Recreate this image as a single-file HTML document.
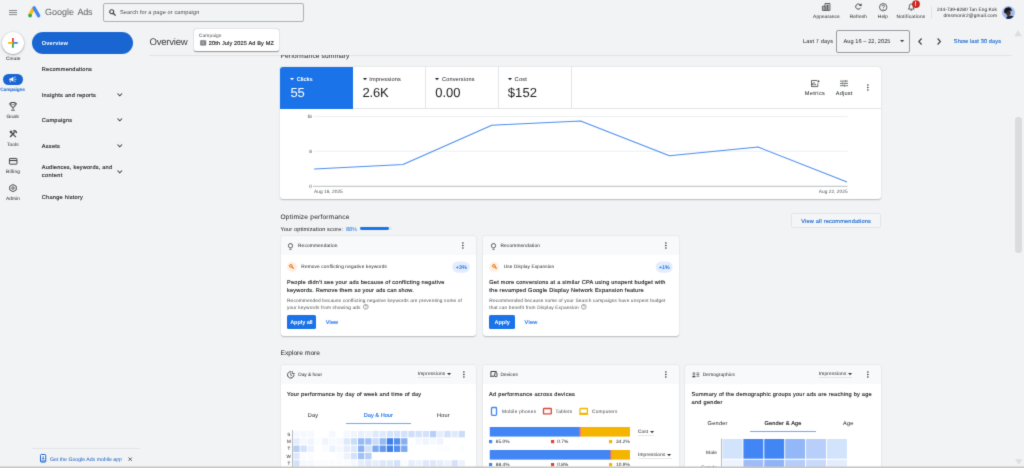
<!DOCTYPE html>
<html lang="en"><head>
<meta charset="utf-8">
<title>Overview - Google Ads</title>
<style>
*{box-sizing:border-box;margin:0;padding:0}
html,body{width:1024px;height:468px;overflow:hidden;background:#f1f3f4}
body{position:relative;text-rendering:geometricPrecision;font-family:"Liberation Sans",sans-serif;color:#202124;-webkit-font-smoothing:antialiased}
.a{position:absolute}
.t{position:absolute;white-space:nowrap;line-height:1;display:block}
.b{font-weight:normal;-webkit-text-stroke:.13px currentColor}
.g{color:#494d52}
.d{color:#202124}
.bl{color:#1a73e8}
.card{position:absolute;background:#fff;border-radius:3px;box-shadow:0 .5px 1px rgba(60,64,67,.22),0 .8px 2px rgba(60,64,67,.1)}
.chd{position:absolute;left:0;top:0;right:0;height:19px;background:#f8f9fa;border-radius:3px 3px 0 0}
svg{position:absolute;overflow:visible}
.dot{position:absolute;width:1.3px;height:1.3px;border-radius:50%;background:#3c4043}
</style>
</head>
<body>
<svg width="0" height="0" style="position:absolute"><filter id="soft" x="0" y="0" width="100%" height="100%" color-interpolation-filters="sRGB"><feConvolveMatrix order="3" kernelMatrix="0.015 0.085 0.015 0.085 0.6 0.085 0.015 0.085 0.015" divisor="1" edgeMode="duplicate" preserveAlpha="true"></feConvolveMatrix></filter></svg>
<div id="wrap" style="position:absolute;left:-8px;top:-8px;width:1040px;height:484px;background:#f1f3f4;filter:url(#soft)">
<div id="page" style="position:absolute;left:8px;top:8px;width:1024px;height:468px">

<!-- ================= TOP BAR ================= -->
<div id="topbar">
  <svg style="left:9px;top:10px" width="8" height="5" viewBox="0 0 8 5"><path d="M0 .5h8M0 2.5h8M0 4.6h8" stroke="#5f6368" stroke-width="0.72" fill="none"></path></svg>
  <!-- logo -->
  <svg style="left:27.5px;top:6px" width="12.6" height="11.6" viewBox="0 0 12.6 11.6">
    <path d="M1.6 9.4 L5.6 2.1" stroke="#fbbc04" stroke-width="3.3" stroke-linecap="butt" fill="none"></path>
    <path d="M6.1 1.9 L10.6 9.7" stroke="#4285f4" stroke-width="3.4" stroke-linecap="round" fill="none"></path>
    <circle cx="2.1" cy="9.6" r="1.9" fill="#34a853"></circle>
  </svg>
  <span class="t g" style="font-size: 9px; color: rgb(95, 99, 104); left: 45px; top: 8px; letter-spacing: -0.006px;">Google</span>
  <span class="t g" style="font-size: 9px; color: rgb(95, 99, 104); left: 77.5px; top: 8px; letter-spacing: -0.206px;">Ads</span>
  <div class="a" style="left:103px;top:2.5px;width:200.5px;height:19px;border:0.7px solid #aeb2b6;border-radius:2px;background:#f1f3f4"></div>
  <svg style="left:109px;top:8.6px" width="7" height="7" viewBox="0 0 7 7"><circle cx="2.7" cy="2.7" r="2" stroke="#3c4043" stroke-width="1.1" fill="none"></circle><path d="M4.2 4.2 L6.6 6.6" stroke="#3c4043" stroke-width="1.25"></path></svg>
  <span class="t g" style="font-size: 5.6px; left: 120px; top: 11px; letter-spacing: 0.087px;">Search for a page or campaign</span>
</div>

<!-- top right -->
<div id="topright">
  <!-- appearance -->
  <svg style="left:822.2px;top:3px" width="8.4" height="7.8" viewBox="0 0 8.4 7.8"><path d="M.4 7.4V3.2h2.6V7.4zM3 7.4V.5h4.9V7.4z" stroke="#3c4043" stroke-width="0.8" fill="none"></path><rect x="4.4" y="1.6" width="2.2" height="5.4" fill="#5f6368"></rect><rect x="1.1" y="4" width="1.3" height="3" fill="#9aa0a6"></rect></svg>
  <span class="t d" style="font-size: 4.8px; left: 813.1px; top: 16px; letter-spacing: 0.087px;">Appearance</span>
  <!-- refresh -->
  <svg style="left:855px;top:3.4px" width="7" height="7" viewBox="0 0 7 7"><path d="M5.7 4.6A2.6 2.6 0 1 1 5 1.6" stroke="#3c4043" stroke-width="0.9" fill="none"></path><path d="M6.6 .2V2.9H3.9z" fill="#3c4043"></path></svg>
  <span class="t d" style="font-size: 4.8px; left: 849.8px; top: 16px; letter-spacing: 0.047px;">Refresh</span>
  <!-- help -->
  <svg style="left:879px;top:2.9px" width="8.4" height="8.4" viewBox="0 0 8.4 8.4"><circle cx="4.2" cy="4.2" r="3.7" stroke="#3c4043" stroke-width="0.8" fill="none"></circle><path d="M3 3.3A1.2 1.2 0 1 1 4.7 4.3Q4.2 4.6 4.2 5.2" stroke="#3c4043" stroke-width="0.8" fill="none"></path><circle cx="4.2" cy="6.4" r=".5" fill="#3c4043"></circle></svg>
  <span class="t d" style="font-size: 4.8px; left: 877.8px; top: 16px; letter-spacing: 0.121px;">Help</span>
  <!-- bell -->
  <svg style="left:908px;top:3px" width="6.6" height="7.8" viewBox="0 0 6.6 7.8"><path d="M.4 6.1h5.8L5.3 5V3A2 2 0 0 0 1.3 3V5z" stroke="#3c4043" stroke-width="0.8" fill="none" stroke-linejoin="round"></path><path d="M2.5 7.1h1.6" stroke="#3c4043" stroke-width="0.9"></path></svg>
  <svg style="left:912px;top:-.4px" width="8" height="8" viewBox="0 0 8 8"><circle cx="4" cy="4.1" r="3.9" fill="#c9261f"></circle></svg>
  <span class="t" style="font-size: 6.4px; color: rgb(255, 255, 255); font-weight: bold; left: 914.55px; top: 2px;">!</span>
  <span class="t d" style="font-size: 4.8px; left: 896.5px; top: 16px; letter-spacing: 0.213px;">Notifications</span>
  <div class="a" style="left:931px;top:5.5px;width:1px;height:13.2px;background:#e2e4e7"></div>
  <span class="t d" style="font-size: 4.8px; left: 937px; top: 9px; letter-spacing: 0.071px;">244-739-8280 Tan Eng Kok</span>
  <span class="t d" style="font-size: 4.8px; left: 943.5px; top: 15px; letter-spacing: 0.165px;">dmsmonir2@gmail.com</span>
  <!-- avatar -->
  <svg style="left:1002px;top:5.9px" width="13" height="13" viewBox="0 0 13 13">
    <defs><clipPath id="av"><circle cx="6.5" cy="6.5" r="6.45"></circle></clipPath></defs>
    <g clip-path="url(#av)">
      <rect width="13" height="13" fill="#a4bcee"></rect>
      <path d="M4 13Q4.5 9.6 7.4 9.8Q11.6 9.2 13 11.5V13z" fill="#1a2543"></path>
      <ellipse cx="6.3" cy="7.1" rx="2.3" ry="2.8" fill="#4a332d"></ellipse>
      <path d="M2.2 6.2Q1.6 2 5.6 1.4Q9.6 1 9.9 5.2Q9.2 4.4 7 4.8Q4.4 5 4.1 7.6Q2.6 7.4 2.2 6.2z" fill="#15141a"></path>
      <path d="M5.2 6.4h2.6" stroke="#1d1716" stroke-width=".6"></path>
    </g>
  </svg>
</div>

<!-- ================= LEFT RAIL ================= -->
<div id="rail">
  <div class="a" style="left:2px;top:32px;width:22px;height:22px;border-radius:50%;background:#fff;box-shadow:0 .5px 1.5px rgba(60,64,67,.4),0 1px 3px rgba(60,64,67,.2)"></div>
  <svg style="left:8.2px;top:38.2px" width="9.8" height="9.8" viewBox="0 0 9.8 9.8">
    <rect x="4" y="0" width="1.8" height="4.9" fill="#ea4335"></rect>
    <rect x="4" y="4.9" width="1.8" height="4.9" fill="#34a853"></rect>
    <rect x="0" y="4" width="4.9" height="1.8" fill="#fbbc04"></rect>
    <rect x="4.9" y="4" width="4.9" height="1.8" fill="#4285f4"></rect>
  </svg>
  <span class="t d" style="font-size: 4.8px; left: 6px; top: 58px; letter-spacing: 0.017px;">Create</span>

  <div class="a" style="left:3px;top:74.2px;width:19.5px;height:10.8px;border-radius:5.4px;background:#1966d3"></div>
  <svg style="left:9px;top:76.2px" width="8" height="7" viewBox="0 0 8 7"><path d="M.4 2.5h1.6L4.4 .8V5.8L2 4.3H.4z" fill="#fff"></path><path d="M1 4.4l.5 1.9" stroke="#fff" stroke-width=".8"></path><path d="M5.4 3.3h2M5.2 1.8l1.5-1M5.2 4.8l1.5 1" stroke="#fff" stroke-width=".7"></path></svg>
  <span class="t" style="font-size: 4.8px; color: rgb(25, 102, 211); font-weight: bold; left: 0.3px; top: 89px; letter-spacing: -0.148px;">Campaigns</span>

  <!-- goals trophy -->
  <svg style="left:9px;top:102.4px" width="8" height="9" viewBox="0 0 8 9"><path d="M1.9 .5h4.2V3.2A2.1 2.1 0 0 1 1.9 3.2z" stroke="#3c4043" stroke-width=".95" fill="none"></path><path d="M1.9 1.3H.5Q.4 3.3 2.1 3.7M6.1 1.3H7.5Q7.6 3.3 5.9 3.7" stroke="#3c4043" stroke-width=".7" fill="none"></path><path d="M4 5.3V7.4M2.2 8.2h3.6" stroke="#3c4043" stroke-width=".9"></path><path d="M2.9 1.8L4 3.2 5.3 1.6" stroke="#3c4043" stroke-width=".5" fill="none"></path></svg>
  <span class="t d" style="font-size: 4.8px; left: 6.5px; top: 116px; letter-spacing: -0.007px;">Goals</span>

  <!-- tools -->
  <svg style="left:9px;top:130px" width="8" height="7.6" viewBox="0 0 8 7.6"><path d="M1.1 7L5.6 2.2" stroke="#3c4043" stroke-width="1.25"></path><path d="M4.3 1.3A1.9 1.9 0 0 1 7.4 3.1" stroke="#3c4043" stroke-width="1.35" fill="none"></path><path d="M2.4 2.6L6.9 7.1" stroke="#3c4043" stroke-width="1.15"></path><path d="M.4 1.9L2 .3 3.6 1.9 2 3.5z" fill="#3c4043"></path></svg>
  <span class="t d" style="font-size: 4.8px; left: 7px; top: 144px; letter-spacing: 0.133px;">Tools</span>

  <!-- billing -->
  <svg style="left:8.8px;top:158px" width="8.4" height="6.6" viewBox="0 0 8.4 6.6"><rect x=".45" y=".45" width="7.5" height="5.7" rx=".4" stroke="#3c4043" stroke-width=".95" fill="none"></rect><path d="M.5 2.5h7.4" stroke="#3c4043" stroke-width="1.1"></path></svg>
  <span class="t d" style="font-size: 4.8px; left: 6px; top: 171px; letter-spacing: 0.183px;">Billing</span>

  <!-- admin -->
  <svg style="left:9px;top:184.4px" width="8" height="8.2" viewBox="0 0 8 8.2"><path d="M4 .55L7.25 2.3V5.9L4 7.65.75 5.9V2.3z" stroke="#3c4043" stroke-width=".95" fill="none" stroke-linejoin="round"></path><circle cx="4" cy="4.1" r="1.25" stroke="#3c4043" stroke-width=".85" fill="none"></circle></svg>
  <span class="t d" style="font-size: 4.8px; left: 6px; top: 198px; letter-spacing: 0.087px;">Admin</span>
</div>

<!-- ================= NAV ================= -->
<div id="nav">
  <div class="a" style="left:32px;top:31.5px;width:101.3px;height:22.5px;border-radius:11.25px;background:#1966d3"></div>
  <span class="t" style="font-size: 5.6px; color: rgb(255, 255, 255); font-weight: bold; left: 41.8px; top: 42px; letter-spacing: 0.175px;">Overview</span>
  <span class="t b" style="font-size: 5.6px; color: rgb(32, 33, 36); left: 41.8px; top: 68px; letter-spacing: 0.245px;">Recommendations</span>
  <span class="t b" style="font-size: 5.6px; color: rgb(32, 33, 36); left: 41.8px; top: 94px; letter-spacing: 0.259px;">Insights and reports</span>
  <span class="t b" style="font-size: 5.6px; color: rgb(32, 33, 36); left: 41.8px; top: 119px; letter-spacing: 0.247px;">Campaigns</span>
  <span class="t b" style="font-size: 5.6px; color: rgb(32, 33, 36); left: 41.8px; top: 145px; letter-spacing: 0.255px;">Assets</span>
  <span class="t b" style="font-size: 5.6px; color: rgb(32, 33, 36); left: 41.8px; top: 166px; letter-spacing: 0.216px;">Audiences, keywords, and</span>
  <span class="t b" style="font-size: 5.6px; color: rgb(32, 33, 36); left: 41.8px; top: 174px; letter-spacing: 0.36px;">content</span>
  <span class="t b" style="font-size: 5.6px; color: rgb(32, 33, 36); left: 41.8px; top: 196px; letter-spacing: 0.265px;">Change history</span>
  <svg style="left:116.9px;top:92.8px" width="5.6" height="3.4" viewBox="0 0 5.6 3.4"><path d="M.5 .5L2.8 2.8 5.1 .5" stroke="#3c4043" stroke-width="1.05" fill="none"></path></svg>
  <svg style="left:116.9px;top:118.4px" width="5.6" height="3.4" viewBox="0 0 5.6 3.4"><path d="M.5 .5L2.8 2.8 5.1 .5" stroke="#3c4043" stroke-width="1.05" fill="none"></path></svg>
  <svg style="left:116.9px;top:144.1px" width="5.6" height="3.4" viewBox="0 0 5.6 3.4"><path d="M.5 .5L2.8 2.8 5.1 .5" stroke="#3c4043" stroke-width="1.05" fill="none"></path></svg>
  <svg style="left:116.9px;top:169.8px" width="5.6" height="3.4" viewBox="0 0 5.6 3.4"><path d="M.5 .5L2.8 2.8 5.1 .5" stroke="#3c4043" stroke-width="1.05" fill="none"></path></svg>
  <!-- mobile app promo -->
  <div class="a" style="left:32px;top:448px;width:108px;height:1px;background:#e3e5e8"></div>
  <svg style="left:40.2px;top:454px" width="6.2" height="8.6" viewBox="0 0 6.2 8.6"><rect x=".5" y=".5" width="5.2" height="7.6" rx=".8" stroke="#1967d2" stroke-width="1" fill="#fff"></rect><path d="M3.1 2V5.2M1.9 4.1L3.1 5.4 4.3 4.1" stroke="#174ea6" stroke-width=".8" fill="none"></path><path d="M.6 7h5" stroke="#1967d2" stroke-width="1"></path></svg>
  <span class="t" style="font-size: 5.2px; color: rgb(26, 95, 203); left: 50px; top: 458px; letter-spacing: -0.004px;">Get the Google Ads mobile app</span>
  <svg style="left:128px;top:456.6px" width="4.4" height="4.4" viewBox="0 0 4.4 4.4"><path d="M.5 .5L3.9 3.9M3.9 .5L.5 3.9" stroke="#3c4043" stroke-width=".8"></path></svg>
</div>

<!-- ================= PAGE HEADER ================= -->
<div id="pagehead">
  <span class="t" style="font-size: 9.6px; color: rgb(60, 64, 67); left: 149.5px; top: 38px; letter-spacing: -0.265px;">Overview</span>
  <div class="a" style="left:194px;top:28.5px;width:85px;height:22.5px;border-radius:2px;background:#fff;box-shadow:0 .4px 1px rgba(60,64,67,.4),0 .5px 1.5px rgba(60,64,67,.2)"></div>
  <span class="t g" style="font-size: 4.8px; left: 199px; top: 35px; letter-spacing: 0.083px;">Campaign</span>
  <svg style="left:200px;top:40.2px" width="6.4" height="5.6" viewBox="0 0 6.4 5.6"><rect x=".2" y=".2" width="6" height="5.2" rx=".6" fill="#777b80"></rect><circle cx="2.8" cy="2.7" r="1.1" stroke="#d5d7da" stroke-width=".55" fill="none"></circle><path d="M3.6 3.5l.9 .9M4.6 1.4h.9" stroke="#d5d7da" stroke-width=".55"></path></svg>
  <span class="t b" style="font-size: 5.6px; color: rgb(32, 33, 36); left: 208.8px; top: 42px; letter-spacing: 0.134px;">20th July 2025 Ad By MZ</span>
  <div class="a" style="left:149px;top:55px;width:863px;height:1px;background:#e1e3e6"></div>

  <span class="t d" style="font-size: 5.6px; left: 803px; top: 40px; letter-spacing: 0.132px;">Last 7 days</span>
  <div class="a" style="left:836px;top:30px;width:74px;height:23px;border:1px solid #979ba0;border-radius:2px"></div>
  <span class="t d" style="font-size: 5.6px; left: 843.5px; top: 40px; letter-spacing: 0.077px;">Aug 16 – 22, 2025</span>
  <svg style="left:899.6px;top:40.2px" width="4.2" height="2.4" viewBox="0 0 4.2 2.4"><path d="M0 0h4.2L2.1 2.3z" fill="#3c4043"></path></svg>
  <svg style="left:918px;top:37.7px" width="4.2" height="7" viewBox="0 0 4.2 7"><path d="M3.6 .5L.8 3.5 3.6 6.5" stroke="#3c4043" stroke-width="1.15" fill="none"></path></svg>
  <svg style="left:937px;top:37.7px" width="4.2" height="7" viewBox="0 0 4.2 7"><path d="M.6 .5L3.4 3.5 .6 6.5" stroke="#3c4043" stroke-width="1.15" fill="none"></path></svg>
  <span class="t b" style="font-size: 5.6px; color: rgb(25, 103, 210); left: 953.8px; top: 40px; letter-spacing: 0.109px;">Show last 30 days</span>
</div>

<!-- scrollbar -->
<div id="scroll">
  <svg style="left:1014px;top:29.6px" width="8.2" height="6.4" viewBox="0 0 8.2 6.4"><path d="M4.1 .2L8 6.2H.2z" fill="#dcdee1"></path></svg>
  <div class="a" style="left:1015px;top:117px;width:6.6px;height:136px;border-radius:3.3px;background:#dadce0"></div>
  <svg style="left:1014.6px;top:459px" width="7.6" height="6" viewBox="0 0 7.6 6"><path d="M.2 .2H7.4L3.8 5.8z" fill="#dcdee1"></path></svg>
</div>

<!-- ================= CONTENT ================= -->
<div id="content" class="a" style="left:0;top:55.3px;width:1012px;height:412.7px;overflow:hidden">
 <div class="a" style="left:0;top:-55.3px;width:1012px;height:468px">

  <span class="t" style="font-size: 6.6px; color: rgb(32, 33, 36); left: 280.5px; top: 54px; letter-spacing: 0.124px;">Performance summary</span>

  <!-- performance card -->
  <div class="card" style="left:280px;top:67px;width:601px;height:131.8px">
    <div class="a" style="left:0;top:41px;width:601px;height:1px;background:#e3e5e8"></div>
    <div class="a" style="left:0;top:0;width:72.8px;height:41.5px;background:#1a73e8;border-radius:3px 0 0 0"></div>
    <div class="a" style="left:145.3px;top:0;width:.6px;height:41px;background:#e3e5e8"></div>
    <div class="a" style="left:218px;top:0;width:.6px;height:41px;background:#e3e5e8"></div>
    <div class="a" style="left:290.6px;top:0;width:.6px;height:41px;background:#e3e5e8"></div>
  </div>
  <svg style="left:289.9px;top:77.7px" width="4" height="2.3" viewBox="0 0 4 2.3"><path d="M0 0h4L2 2.3z" fill="#fff"></path></svg>
  <span class="t" style="font-size: 5.6px; color: rgb(255, 255, 255); font-weight: bold; left: 296.8px; top: 78px; letter-spacing: -0.143px;">Clicks</span>
  <span class="t" style="font-size: 13px; color: rgb(255, 255, 255); left: 290.4px; top: 86px; letter-spacing: -0.179px;">55</span>

  <svg style="left:362.7px;top:77.7px" width="4" height="2.3" viewBox="0 0 4 2.3"><path d="M0 0h4L2 2.3z" fill="#202124"></path></svg>
  <span class="t d" style="font-size: 5.6px; color: rgb(32, 33, 36); left: 369.3px; top: 78px; letter-spacing: 0.128px;">Impressions</span>
  <span class="t d" style="font-size: 13px; left: 362.6px; top: 86px; letter-spacing: -0.243px;">2.6K</span>

  <svg style="left:435.4px;top:77.7px" width="4" height="2.3" viewBox="0 0 4 2.3"><path d="M0 0h4L2 2.3z" fill="#202124"></path></svg>
  <span class="t d" style="font-size: 5.6px; color: rgb(32, 33, 36); left: 442px; top: 78px; letter-spacing: 0.134px;">Conversions</span>
  <span class="t d" style="font-size: 13px; left: 435.2px; top: 86px; letter-spacing: -0.004px;">0.00</span>

  <svg style="left:508.1px;top:77.7px" width="4" height="2.3" viewBox="0 0 4 2.3"><path d="M0 0h4L2 2.3z" fill="#202124"></path></svg>
  <span class="t d" style="font-size: 5.6px; color: rgb(32, 33, 36); left: 514.6px; top: 78px; letter-spacing: 0.253px;">Cost</span>
  <span class="t d" style="font-size: 13px; left: 507.8px; top: 86px; letter-spacing: 0.079px;">$152</span>

  <!-- metrics / adjust -->
  <svg style="left:810.5px;top:80px" width="8.8" height="7.2" viewBox="0 0 8.8 7.2"><path d="M6 .5H.5V6.6H6.8V3.4" stroke="#3c4043" stroke-width=".8" fill="none"></path><path d="M1.6 5.3V3.2M3 5.3V2M4.4 5.3V3.9" stroke="#3c4043" stroke-width=".8"></path><path d="M7.4 0V2.6M6.1 1.3H8.7" stroke="#3c4043" stroke-width=".7"></path></svg>
  <span class="t d" style="font-size: 5.6px; left: 804.8px; top: 92px; letter-spacing: 0.334px;">Metrics</span>
  <svg style="left:840px;top:80.2px" width="8" height="6.8" viewBox="0 0 8 6.8"><path d="M0 1.1H4.6M6 1.1H8M0 3.4H2M3.4 3.4H8M0 5.7H4M5.4 5.7H8" stroke="#3c4043" stroke-width=".75"></path><path d="M5.3 0V2.2M2.7 2.3V4.5M4.7 4.6V6.8" stroke="#3c4043" stroke-width=".8"></path></svg>
  <span class="t d" style="font-size: 5.6px; left: 835.8px; top: 92px; letter-spacing: 0.21px;">Adjust</span>
  <svg style="left:867.4px;top:84.2px" width="1.8" height="6.8" viewBox="0 0 1.8 6.8"><circle cx=".9" cy=".9" r=".76" fill="#202124"></circle><circle cx=".9" cy="3.4" r=".76" fill="#202124"></circle><circle cx=".9" cy="5.9" r=".76" fill="#202124"></circle></svg>

  <!-- chart -->
  <svg style="left:280px;top:108px" width="601" height="91" viewBox="280 108 601 91">
    <path d="M314 116.5H847.5M314 151.3H847.5" stroke="#e8eaed" stroke-width=".7"></path>
    <path d="M313 186.3H847.5" stroke="#9aa0a6" stroke-width=".7"></path>
    <path d="M314.2 168.9 L403.0 164.5 L491.8 125.3 L580.6 120.9 L669.4 155.8 L758.2 147.1 L847.0 181.9" stroke="#4a8df0" stroke-width="1.05" fill="none" stroke-linejoin="round"></path>
  </svg>
  <span class="t g" style="font-size: 4.8px; color: rgb(77, 81, 86); left: 307.2px; top: 116px; letter-spacing: -0.496px;">16</span>
  <span class="t g" style="font-size: 4.8px; color: rgb(77, 81, 86); left: 309.3px; top: 151px;">8</span>
  <span class="t g" style="font-size: 4.8px; color: rgb(77, 81, 86); left: 309.3px; top: 186px;">0</span>
  <span class="t g" style="font-size: 4.8px; color: rgb(77, 81, 86); left: 314px; top: 191px; letter-spacing: 0.022px;">Aug 16, 2025</span>
  <span class="t g" style="font-size: 4.8px; color: rgb(77, 81, 86); left: 818.8px; top: 191px; letter-spacing: 0.022px;">Aug 22, 2025</span>

  <!-- optimize -->
  <span class="t" style="font-size: 6.6px; color: rgb(32, 33, 36); left: 280.5px; top: 215px; letter-spacing: 0.212px;">Optimize performance</span>
  <span class="t d" style="font-size: 5.6px; left: 280.5px; top: 228px; letter-spacing: 0.128px;">Your optimization score:</span>
  <span class="t" style="font-size: 5.6px; color: rgb(26, 115, 232); left: 346px; top: 228px; letter-spacing: -0.081px;">88%</span>
  <div class="a" style="left:360px;top:227.2px;width:31.8px;height:2.8px;border-radius:1.4px;background:#e3e7ee"></div>
  <div class="a" style="left:360px;top:227.2px;width:28.6px;height:2.8px;border-radius:1.4px;background:#1a73e8"></div>
  <div class="a" style="left:791px;top:213px;width:90px;height:15px;border:1px solid #e3e5e8;border-radius:2px;background:#f3f5f6"></div>
  <span class="t b" style="font-size: 5.6px; color: rgb(25, 103, 210); left: 801.2px; top: 220px; letter-spacing: 0.196px;">View all recommendations</span>

  <!-- rec card 1 -->
  <div class="card" style="left:280.7px;top:236.2px;width:195.3px;height:99.4px"><div class="chd"></div></div>
  <svg style="left:288.3px;top:242.6px" width="5" height="7.2" viewBox="0 0 5 7.2"><path d="M1.5 4.9Q.45 4 .45 2.6A2.05 2.05 0 0 1 4.55 2.6Q4.55 4 3.5 4.9z" stroke="#3c4043" stroke-width=".85" fill="none" stroke-linejoin="round"></path><path d="M1.5 6.4H3.5" stroke="#3c4043" stroke-width=".8"></path></svg>
  <span class="t d" style="font-size: 4.8px; left: 298px; top: 245px; letter-spacing: 0.14px;">Recommendation</span>
  <svg style="left:462.4px;top:242.4px" width="1.8" height="6.8" viewBox="0 0 1.8 6.8"><circle cx=".9" cy=".9" r=".76" fill="#202124"></circle><circle cx=".9" cy="3.4" r=".76" fill="#202124"></circle><circle cx=".9" cy="5.9" r=".76" fill="#202124"></circle></svg>
  <div class="a" style="left:286.8px;top:261.8px;width:10px;height:10px;border-radius:50%;background:#feefe3"></div>
  <svg style="left:289.4px;top:264.4px" width="5" height="5" viewBox="0 0 5 5"><circle cx="1.9" cy="1.9" r="1.35" stroke="#e8710a" stroke-width="1" fill="none"></circle><path d="M3 3L4.7 4.7" stroke="#e8710a" stroke-width="1.15"></path></svg>
  <span class="t d" style="font-size: 4.8px; left: 301.3px; top: 266px; letter-spacing: 0.116px;">Remove conflicting negative keywords</span>
  <svg style="left:452px;top:261px" width="18" height="12" viewBox="452 261 18 12"><rect x="452.2" y="261.4" width="17.7" height="11.3" rx="5.65" fill="#e4edfd"></rect></svg>
  <span class="t b" style="font-size: 5.2px; color: rgb(26, 115, 232); left: 455.7px; top: 266px; letter-spacing: 0.267px;">+3%</span>
  <span class="t b" style="font-size: 5.6px; color: rgb(32, 33, 36); left: 287px; top: 281px; letter-spacing: 0.238px;">People didn't see your ads because of conflicting negative</span>
  <span class="t b" style="font-size: 5.6px; color: rgb(32, 33, 36); left: 287px; top: 289px; letter-spacing: 0.196px;">keywords. Remove them so your ads can show.</span>
  <span class="t g" style="font-size: 4.8px; left: 287px; top: 300px; letter-spacing: 0.124px;">Recommended because conflicting negative keywords are preventing some of</span>
  <span class="t g" style="font-size: 4.8px; left: 287px; top: 307px; letter-spacing: 0.123px;">your keywords from showing ads</span>
  <svg style="left:363px;top:304.4px" width="5.6" height="5.6" viewBox="0 0 5.6 5.6"><circle cx="2.8" cy="2.8" r="2.4" stroke="#5f6368" stroke-width=".55" fill="none"></circle><path d="M2 2.3A.8.8 0 1 1 3.2 3Q2.8 3.2 2.8 3.6" stroke="#5f6368" stroke-width=".5" fill="none"></path><circle cx="2.8" cy="4.3" r=".3" fill="#5f6368"></circle></svg>
  <div class="a" style="left:287px;top:315px;width:28.8px;height:14px;border-radius:1.6px;background:#1a73e8"></div>
  <span class="t" style="font-size: 5.6px; color: rgb(255, 255, 255); font-weight: bold; left: 290.2px; top: 321px; letter-spacing: -0.107px;">Apply all</span>
  <span class="t b" style="font-size: 5.6px; color: rgb(26, 115, 232); left: 325.8px; top: 321px; letter-spacing: 0.105px;">View</span>

  <!-- rec card 2 -->
  <div class="card" style="left:483px;top:236.2px;width:196px;height:99.4px"><div class="chd"></div></div>
  <svg style="left:490.8px;top:242.6px" width="5" height="7.2" viewBox="0 0 5 7.2"><path d="M1.5 4.9Q.45 4 .45 2.6A2.05 2.05 0 0 1 4.55 2.6Q4.55 4 3.5 4.9z" stroke="#3c4043" stroke-width=".85" fill="none" stroke-linejoin="round"></path><path d="M1.5 6.4H3.5" stroke="#3c4043" stroke-width=".8"></path></svg>
  <span class="t d" style="font-size: 4.8px; left: 500.5px; top: 245px; letter-spacing: 0.14px;">Recommendation</span>
  <svg style="left:665.2px;top:242.4px" width="1.8" height="6.8" viewBox="0 0 1.8 6.8"><circle cx=".9" cy=".9" r=".76" fill="#202124"></circle><circle cx=".9" cy="3.4" r=".76" fill="#202124"></circle><circle cx=".9" cy="5.9" r=".76" fill="#202124"></circle></svg>
  <div class="a" style="left:489px;top:261.8px;width:10px;height:10px;border-radius:50%;background:#feefe3"></div>
  <svg style="left:491.6px;top:264.4px" width="5" height="5" viewBox="0 0 5 5"><circle cx="1.9" cy="1.9" r="1.35" stroke="#e8710a" stroke-width="1" fill="none"></circle><path d="M3 3L4.7 4.7" stroke="#e8710a" stroke-width="1.15"></path></svg>
  <span class="t d" style="font-size: 4.8px; left: 503.8px; top: 266px; letter-spacing: 0.057px;">Use Display Expansion</span>
  <svg style="left:655px;top:261px" width="18" height="12" viewBox="655 261 18 12"><rect x="655.6" y="261.4" width="17" height="11.3" rx="5.65" fill="#e4edfd"></rect></svg>
  <span class="t b" style="font-size: 5.2px; color: rgb(26, 115, 232); left: 658.9px; top: 266px; letter-spacing: 0.067px;">+1%</span>
  <span class="t b" style="font-size: 5.6px; color: rgb(32, 33, 36); left: 489.3px; top: 281px; letter-spacing: 0.224px;">Get more conversions at a similar CPA using unspent budget with</span>
  <span class="t b" style="font-size: 5.6px; color: rgb(32, 33, 36); left: 489.3px; top: 289px; letter-spacing: 0.23px;">the revamped Google Display Network Expansion feature</span>
  <span class="t g" style="font-size: 4.8px; left: 489.3px; top: 300px; letter-spacing: 0.116px;">Recommended because some of your Search campaigns have unspent budget</span>
  <span class="t g" style="font-size: 4.8px; left: 489.3px; top: 307px; letter-spacing: 0.129px;">that can benefit from Display Expansion</span>
  <svg style="left:581px;top:304.4px" width="5.6" height="5.6" viewBox="0 0 5.6 5.6"><circle cx="2.8" cy="2.8" r="2.4" stroke="#5f6368" stroke-width=".55" fill="none"></circle><path d="M2 2.3A.8.8 0 1 1 3.2 3Q2.8 3.2 2.8 3.6" stroke="#5f6368" stroke-width=".5" fill="none"></path><circle cx="2.8" cy="4.3" r=".3" fill="#5f6368"></circle></svg>
  <div class="a" style="left:489.3px;top:315px;width:25.7px;height:14px;border-radius:1.6px;background:#1a73e8"></div>
  <span class="t" style="font-size: 5.6px; color: rgb(255, 255, 255); font-weight: bold; left: 494.4px; top: 321px; letter-spacing: -0.033px;">Apply</span>
  <span class="t b" style="font-size: 5.6px; color: rgb(26, 115, 232); left: 524.5px; top: 321px; letter-spacing: 0.277px;">View</span>

  <!-- explore more -->
  <span class="t" style="font-size: 6.6px; color: rgb(32, 33, 36); left: 280.5px; top: 351px; letter-spacing: 0.024px;">Explore more</span>

  <div class="card" style="left:280.7px;top:365.2px;width:195.3px;height:110px"><div class="chd" style="height:18.6px"></div></div>
  <svg style="left:287px;top:370.6px" width="7.8" height="7.8" viewBox="0 0 7.8 7.8"><path d="M6.9 3.4A3.2 3.2 0 1 1 4.2 .7" stroke="#3c4043" stroke-width=".95" fill="none"></path><path d="M3.7 2.2V4.1L5.1 5" stroke="#3c4043" stroke-width=".8" fill="none"></path><path d="M5.3 .2V2.5H7.6" stroke="#3c4043" stroke-width=".8" fill="none"></path></svg>
  <span class="t d" style="font-size: 4.8px; left: 298.2px; top: 374px; letter-spacing: -0.021px;">Day &amp; hour</span>
  <span class="t d" style="font-size: 4.8px; left: 417.7px; top: 373px; letter-spacing: 0.166px;">Impressions</span>
  <svg style="left:447px;top:373px" width="4.2" height="2.3" viewBox="0 0 4.2 2.3"><path d="M0 0h4.2L2.1 2.3z" fill="#3c4043"></path></svg>
  <div class="a" style="left:417.7px;top:377.4px;width:33.6px;height:1px;background:#e4e6e9"></div>
  <svg style="left:462.7px;top:371.0px" width="1.8" height="6.8" viewBox="0 0 1.8 6.8"><circle cx=".9" cy=".9" r=".76" fill="#202124"></circle><circle cx=".9" cy="3.4" r=".76" fill="#202124"></circle><circle cx=".9" cy="5.9" r=".76" fill="#202124"></circle></svg>
  <span class="t b" style="font-size: 5.6px; color: rgb(32, 33, 36); left: 287px; top: 393px; letter-spacing: 0.244px;">Your performance by day of week and time of day</span>
  <span class="t d" style="font-size: 5.6px; left: 307.8px; top: 414px; letter-spacing: 0.179px;">Day</span>
  <span class="t b" style="font-size: 5.6px; color: rgb(26, 115, 232); left: 363.7px; top: 414px; letter-spacing: 0.029px;">Day &amp; Hour</span>
  <span class="t d" style="font-size: 5.6px; left: 437px; top: 414px; letter-spacing: 0.193px;">Hour</span>
  <div class="a" style="left:345.8px;top:423.1px;width:65.3px;height:1px;background:#76a6f6"></div>
  <span class="t d" style="font-size: 4.6px; left: 287.3px; top: 433px;">S</span>
  <span class="t d" style="font-size: 4.6px; left: 286.9px; top: 440px;">M</span>
  <span class="t d" style="font-size: 4.6px; left: 287.4px; top: 447px;">T</span>
  <span class="t d" style="font-size: 4.6px; left: 286.6px; top: 455px;">W</span>
  <span class="t d" style="font-size: 4.6px; left: 287.4px; top: 462px;">T</span>
  <svg style="left:280px;top:424px" width="200" height="48" viewBox="280 424 200 48"><rect x="292.2" y="430" width=".55" height="40" fill="#80868b"></rect><rect x="293.30" y="430.90" width="6.3" height="6.4" fill="#2470e8" fill-opacity="0.048"></rect><rect x="300.49" y="430.90" width="6.3" height="6.4" fill="#2470e8" fill-opacity="0.048"></rect><rect x="307.68" y="430.90" width="6.3" height="6.4" fill="#2470e8" fill-opacity="0.048"></rect><rect x="329.25" y="430.90" width="6.3" height="6.4" fill="#2470e8" fill-opacity="0.048"></rect><rect x="343.63" y="430.90" width="6.3" height="6.4" fill="#2470e8" fill-opacity="0.048"></rect><rect x="350.82" y="430.90" width="6.3" height="6.4" fill="#2470e8" fill-opacity="0.067"></rect><rect x="358.01" y="430.90" width="6.3" height="6.4" fill="#2470e8" fill-opacity="0.102"></rect><rect x="365.20" y="430.90" width="6.3" height="6.4" fill="#2470e8" fill-opacity="0.088"></rect><rect x="372.39" y="430.90" width="6.3" height="6.4" fill="#2470e8" fill-opacity="0.149"></rect><rect x="379.58" y="430.90" width="6.3" height="6.4" fill="#2470e8" fill-opacity="0.149"></rect><rect x="386.77" y="430.90" width="6.3" height="6.4" fill="#2470e8" fill-opacity="0.190"></rect><rect x="393.96" y="430.90" width="6.3" height="6.4" fill="#2470e8" fill-opacity="0.190"></rect><rect x="401.15" y="430.90" width="6.3" height="6.4" fill="#2470e8" fill-opacity="0.199"></rect><rect x="408.34" y="430.90" width="6.3" height="6.4" fill="#2470e8" fill-opacity="0.225"></rect><rect x="415.53" y="430.90" width="6.3" height="6.4" fill="#2470e8" fill-opacity="0.199"></rect><rect x="422.72" y="430.90" width="6.3" height="6.4" fill="#2470e8" fill-opacity="0.199"></rect><rect x="429.91" y="430.90" width="6.3" height="6.4" fill="#2470e8" fill-opacity="0.327"></rect><rect x="437.10" y="430.90" width="6.3" height="6.4" fill="#2470e8" fill-opacity="0.117"></rect><rect x="444.29" y="430.90" width="6.3" height="6.4" fill="#2470e8" fill-opacity="0.199"></rect><rect x="451.48" y="430.90" width="6.3" height="6.4" fill="#2470e8" fill-opacity="0.149"></rect><rect x="458.67" y="430.90" width="6.3" height="6.4" fill="#2470e8" fill-opacity="0.234"></rect><rect x="293.30" y="438.22" width="6.3" height="6.4" fill="#2470e8" fill-opacity="0.117"></rect><rect x="300.49" y="438.22" width="6.3" height="6.4" fill="#2470e8" fill-opacity="0.048"></rect><rect x="307.68" y="438.22" width="6.3" height="6.4" fill="#2470e8" fill-opacity="0.074"></rect><rect x="314.87" y="438.22" width="6.3" height="6.4" fill="#2470e8" fill-opacity="0.014"></rect><rect x="322.06" y="438.22" width="6.3" height="6.4" fill="#2470e8" fill-opacity="0.074"></rect><rect x="329.25" y="438.22" width="6.3" height="6.4" fill="#2470e8" fill-opacity="0.036"></rect><rect x="336.44" y="438.22" width="6.3" height="6.4" fill="#2470e8" fill-opacity="0.048"></rect><rect x="343.63" y="438.22" width="6.3" height="6.4" fill="#2470e8" fill-opacity="0.157"></rect><rect x="350.82" y="438.22" width="6.3" height="6.4" fill="#2470e8" fill-opacity="0.243"></rect><rect x="358.01" y="438.22" width="6.3" height="6.4" fill="#2470e8" fill-opacity="0.489"></rect><rect x="365.20" y="438.22" width="6.3" height="6.4" fill="#2470e8" fill-opacity="0.437"></rect><rect x="372.39" y="438.22" width="6.3" height="6.4" fill="#2470e8" fill-opacity="0.243"></rect><rect x="379.58" y="438.22" width="6.3" height="6.4" fill="#2470e8" fill-opacity="0.489"></rect><rect x="386.77" y="438.22" width="6.3" height="6.4" fill="#2470e8" fill-opacity="0.889"></rect><rect x="393.96" y="438.22" width="6.3" height="6.4" fill="#2470e8" fill-opacity="0.781"></rect><rect x="401.15" y="438.22" width="6.3" height="6.4" fill="#2470e8" fill-opacity="0.554"></rect><rect x="415.53" y="438.22" width="6.3" height="6.4" fill="#2470e8" fill-opacity="0.048"></rect><rect x="422.72" y="438.22" width="6.3" height="6.4" fill="#2470e8" fill-opacity="0.074"></rect><rect x="429.91" y="438.22" width="6.3" height="6.4" fill="#2470e8" fill-opacity="0.048"></rect><rect x="437.10" y="438.22" width="6.3" height="6.4" fill="#2470e8" fill-opacity="0.074"></rect><rect x="293.30" y="445.54" width="6.3" height="6.4" fill="#2470e8" fill-opacity="0.336"></rect><rect x="300.49" y="445.54" width="6.3" height="6.4" fill="#2470e8" fill-opacity="0.199"></rect><rect x="307.68" y="445.54" width="6.3" height="6.4" fill="#2470e8" fill-opacity="0.081"></rect><rect x="322.06" y="445.54" width="6.3" height="6.4" fill="#2470e8" fill-opacity="0.019"></rect><rect x="329.25" y="445.54" width="6.3" height="6.4" fill="#2470e8" fill-opacity="0.081"></rect><rect x="336.44" y="445.54" width="6.3" height="6.4" fill="#2470e8" fill-opacity="0.048"></rect><rect x="343.63" y="445.54" width="6.3" height="6.4" fill="#2470e8" fill-opacity="0.117"></rect><rect x="350.82" y="445.54" width="6.3" height="6.4" fill="#2470e8" fill-opacity="0.157"></rect><rect x="358.01" y="445.54" width="6.3" height="6.4" fill="#2470e8" fill-opacity="0.532"></rect><rect x="365.20" y="445.54" width="6.3" height="6.4" fill="#2470e8" fill-opacity="0.199"></rect><rect x="372.39" y="445.54" width="6.3" height="6.4" fill="#2470e8" fill-opacity="0.598"></rect><rect x="379.58" y="445.54" width="6.3" height="6.4" fill="#2470e8" fill-opacity="0.711"></rect><rect x="386.77" y="445.54" width="6.3" height="6.4" fill="#2470e8" fill-opacity="0.889"></rect><rect x="393.96" y="445.54" width="6.3" height="6.4" fill="#2470e8" fill-opacity="0.781"></rect><rect x="401.15" y="445.54" width="6.3" height="6.4" fill="#2470e8" fill-opacity="0.598"></rect><rect x="437.10" y="445.54" width="6.3" height="6.4" fill="#2470e8" fill-opacity="0.010"></rect><rect x="444.29" y="445.54" width="6.3" height="6.4" fill="#2470e8" fill-opacity="0.010"></rect><rect x="458.67" y="445.54" width="6.3" height="6.4" fill="#2470e8" fill-opacity="0.010"></rect><rect x="293.30" y="452.86" width="6.3" height="6.4" fill="#2470e8" fill-opacity="0.157"></rect><rect x="300.49" y="452.86" width="6.3" height="6.4" fill="#2470e8" fill-opacity="0.019"></rect><rect x="307.68" y="452.86" width="6.3" height="6.4" fill="#2470e8" fill-opacity="0.019"></rect><rect x="336.44" y="452.86" width="6.3" height="6.4" fill="#2470e8" fill-opacity="0.019"></rect><rect x="343.63" y="452.86" width="6.3" height="6.4" fill="#2470e8" fill-opacity="0.081"></rect><rect x="350.82" y="452.86" width="6.3" height="6.4" fill="#2470e8" fill-opacity="0.199"></rect><rect x="358.01" y="452.86" width="6.3" height="6.4" fill="#2470e8" fill-opacity="0.437"></rect><rect x="365.20" y="452.86" width="6.3" height="6.4" fill="#2470e8" fill-opacity="0.336"></rect><rect x="293.30" y="460.18" width="6.3" height="6.4" fill="#2470e8" fill-opacity="0.199"></rect><rect x="300.49" y="460.18" width="6.3" height="6.4" fill="#2470e8" fill-opacity="0.048"></rect><rect x="307.68" y="460.18" width="6.3" height="6.4" fill="#2470e8" fill-opacity="0.048"></rect><rect x="314.87" y="460.18" width="6.3" height="6.4" fill="#2470e8" fill-opacity="0.019"></rect><rect x="322.06" y="460.18" width="6.3" height="6.4" fill="#2470e8" fill-opacity="0.019"></rect><rect x="329.25" y="460.18" width="6.3" height="6.4" fill="#2470e8" fill-opacity="0.019"></rect><rect x="336.44" y="460.18" width="6.3" height="6.4" fill="#2470e8" fill-opacity="0.019"></rect><rect x="343.63" y="460.18" width="6.3" height="6.4" fill="#2470e8" fill-opacity="0.019"></rect><rect x="350.82" y="460.18" width="6.3" height="6.4" fill="#2470e8" fill-opacity="0.048"></rect><rect x="358.01" y="460.18" width="6.3" height="6.4" fill="#2470e8" fill-opacity="0.117"></rect><rect x="365.20" y="460.18" width="6.3" height="6.4" fill="#2470e8" fill-opacity="0.157"></rect><rect x="372.39" y="460.18" width="6.3" height="6.4" fill="#2470e8" fill-opacity="0.117"></rect><rect x="379.58" y="460.18" width="6.3" height="6.4" fill="#2470e8" fill-opacity="0.157"></rect><rect x="386.77" y="460.18" width="6.3" height="6.4" fill="#2470e8" fill-opacity="0.157"></rect><rect x="393.96" y="460.18" width="6.3" height="6.4" fill="#2470e8" fill-opacity="0.199"></rect><rect x="401.15" y="460.18" width="6.3" height="6.4" fill="#2470e8" fill-opacity="0.019"></rect><rect x="408.34" y="460.18" width="6.3" height="6.4" fill="#2470e8" fill-opacity="0.117"></rect><rect x="415.53" y="460.18" width="6.3" height="6.4" fill="#2470e8" fill-opacity="0.081"></rect><rect x="422.72" y="460.18" width="6.3" height="6.4" fill="#2470e8" fill-opacity="0.157"></rect><rect x="429.91" y="460.18" width="6.3" height="6.4" fill="#2470e8" fill-opacity="0.157"></rect><rect x="437.10" y="460.18" width="6.3" height="6.4" fill="#2470e8" fill-opacity="0.117"></rect><rect x="444.29" y="460.18" width="6.3" height="6.4" fill="#2470e8" fill-opacity="0.081"></rect><rect x="451.48" y="460.18" width="6.3" height="6.4" fill="#2470e8" fill-opacity="0.199"></rect><rect x="458.67" y="460.18" width="6.3" height="6.4" fill="#2470e8" fill-opacity="0.081"></rect></svg>
  <div class="card" style="left:483px;top:365.2px;width:196px;height:110px"><div class="chd" style="height:18.6px"></div></div>
  <svg style="left:489.7px;top:371.4px" width="7.4" height="6" viewBox="0 0 7.4 6"><path d="M.9 4.4V.5H6.3V1.5" stroke="#3c4043" stroke-width="1" fill="none"></path><path d="M0 5.2H4.2" stroke="#3c4043" stroke-width="1.1"></path><rect x="4.7" y="1.9" width="2.3" height="3.7" rx=".3" stroke="#3c4043" stroke-width=".9" fill="none"></rect></svg>
  <span class="t d" style="font-size: 4.8px; left: 500.6px; top: 374px; letter-spacing: 0.021px;">Devices</span>
  <svg style="left:665.2px;top:371.0px" width="1.8" height="6.8" viewBox="0 0 1.8 6.8"><circle cx=".9" cy=".9" r=".76" fill="#202124"></circle><circle cx=".9" cy="3.4" r=".76" fill="#202124"></circle><circle cx=".9" cy="5.9" r=".76" fill="#202124"></circle></svg>
  <span class="t b" style="font-size: 5.6px; color: rgb(32, 33, 36); left: 489.1px; top: 393px; letter-spacing: 0.265px;">Ad performance across devices</span>
  <svg style="left:491px;top:407px" width="6" height="8.8" viewBox="0 0 6 8.8"><rect x=".5" y=".5" width="5" height="7.8" rx=".8" stroke="#4285f4" stroke-width="1.3" fill="#fff"></rect></svg>
  <span class="t g" style="font-size: 4.8px; color: rgb(60, 64, 67); left: 502px; top: 411px; letter-spacing: 0.24px;">Mobile phones</span>
  <svg style="left:543px;top:408.4px" width="8.8" height="6.4" viewBox="0 0 8.8 6.4"><rect x=".5" y=".5" width="7.8" height="5.4" rx=".4" stroke="#db4437" stroke-width="1.3" fill="#fff"></rect></svg>
  <span class="t g" style="font-size: 4.8px; color: rgb(60, 64, 67); left: 555.6px; top: 411px; letter-spacing: 0.23px;">Tablets</span>
  <svg style="left:579.4px;top:408.2px" width="9.4" height="7" viewBox="0 0 9.4 7"><rect x="1" y=".5" width="7.4" height="5" rx=".5" stroke="#f4b400" stroke-width="1.3" fill="#fff"></rect><path d="M0 6.3H9.4" stroke="#f4b400" stroke-width="1.2"></path></svg>
  <span class="t g" style="font-size: 4.8px; color: rgb(60, 64, 67); left: 592px; top: 411px; letter-spacing: 0.227px;">Computers</span>
  <svg style="left:489px;top:427.1px" width="142" height="9.6" viewBox="489 0 142 9.6"><rect x="580.6" y="0" width="49.4" height="9.6" fill="#f4b400"></rect><rect x="578.9" y="0" width="2.0" height="9.6" fill="#e8766a"></rect><rect x="489.7" y="0" width="89.5" height="9.6" fill="#4285f4"></rect></svg>
  <svg style="left:489px;top:449.8px" width="142" height="9.6" viewBox="489 0 142 9.6"><rect x="611.2" y="0" width="18.8" height="9.6" fill="#f4b400"></rect><rect x="609.9" y="0" width="1.6" height="9.6" fill="#e8766a"></rect><rect x="489.7" y="0" width="120.5" height="9.6" fill="#4285f4"></rect></svg>
  <svg style="left:489.2px;top:440.1px" width="3.2" height="3.2" viewBox="0 0 3.2 3.2"><rect width="3.2" height="3.2" fill="#4285f4"></rect></svg>
  <svg style="left:550.8px;top:440.1px" width="3.2" height="3.2" viewBox="0 0 3.2 3.2"><rect width="3.2" height="3.2" fill="#db4437"></rect></svg>
  <svg style="left:609px;top:440.1px" width="3.2" height="3.2" viewBox="0 0 3.2 3.2"><rect width="3.2" height="3.2" fill="#f4b400"></rect></svg>
  <span class="t d" style="font-size: 4.8px; left: 495.7px; top: 441px; letter-spacing: 0.065px;">65.0%</span>
  <span class="t d" style="font-size: 4.8px; left: 557.2px; top: 441px; letter-spacing: 0.018px;">0.7%</span>
  <span class="t d" style="font-size: 4.8px; left: 616px; top: 441px; letter-spacing: 0.042px;">34.2%</span>
  <svg style="left:489.2px;top:462.6px" width="3.2" height="3.2" viewBox="0 0 3.2 3.2"><rect width="3.2" height="3.2" fill="#4285f4"></rect></svg>
  <svg style="left:550.8px;top:462.6px" width="3.2" height="3.2" viewBox="0 0 3.2 3.2"><rect width="3.2" height="3.2" fill="#db4437"></rect></svg>
  <svg style="left:609px;top:462.6px" width="3.2" height="3.2" viewBox="0 0 3.2 3.2"><rect width="3.2" height="3.2" fill="#f4b400"></rect></svg>
  <span class="t d" style="font-size: 4.8px; left: 495.7px; top: 464px; letter-spacing: 0.065px;">88.4%</span>
  <span class="t d" style="font-size: 4.8px; left: 557.2px; top: 464px; letter-spacing: 0.018px;">0.8%</span>
  <span class="t d" style="font-size: 4.8px; left: 616px; top: 464px; letter-spacing: 0.042px;">10.9%</span>
  <span class="t d" style="font-size: 4.8px; left: 637.9px; top: 431px; letter-spacing: 0.15px;">Cost</span>
  <svg style="left:650px;top:430.6px" width="4.2" height="2.3" viewBox="0 0 4.2 2.3"><path d="M0 0h4.2L2.1 2.3z" fill="#3c4043"></path></svg>
  <div class="a" style="left:637.9px;top:435px;width:16px;height:1px;background:#e4e6e9"></div>
  <span class="t d" style="font-size: 4.8px; left: 637.9px; top: 454px; letter-spacing: 0.166px;">Impressions</span>
  <svg style="left:667.4px;top:453.5px" width="4.2" height="2.3" viewBox="0 0 4.2 2.3"><path d="M0 0h4.2L2.1 2.3z" fill="#3c4043"></path></svg>
  <div class="a" style="left:637.9px;top:458px;width:33.8px;height:1px;background:#e4e6e9"></div>
  <div class="card" style="left:685.2px;top:365.2px;width:195.8px;height:110px"><div class="chd" style="height:18.6px"></div></div>
  <svg style="left:691.9px;top:371.6px" width="7.4" height="5.8" viewBox="0 0 7.4 5.8"><circle cx="1.9" cy="1.6" r="1" stroke="#3c4043" stroke-width=".7" fill="none"></circle><path d="M.2 5.3Q.2 3.6 1.9 3.6Q3.6 3.6 3.6 5.3z" fill="#3c4043"></path><path d="M4.5 1H7.3M4.5 2.6H7.3M4.5 4.2H7.3" stroke="#3c4043" stroke-width=".7"></path></svg>
  <span class="t d" style="font-size: 4.8px; left: 702.8px; top: 374px; letter-spacing: 0.11px;">Demographics</span>
  <span class="t d" style="font-size: 4.8px; left: 818.8px; top: 373px; letter-spacing: 0.166px;">Impressions</span>
  <svg style="left:848.2px;top:373px" width="4.2" height="2.3" viewBox="0 0 4.2 2.3"><path d="M0 0h4.2L2.1 2.3z" fill="#3c4043"></path></svg>
  <div class="a" style="left:818.8px;top:377.4px;width:33.6px;height:1px;background:#e4e6e9"></div>
  <svg style="left:867.4px;top:371.0px" width="1.8" height="6.8" viewBox="0 0 1.8 6.8"><circle cx=".9" cy=".9" r=".76" fill="#202124"></circle><circle cx=".9" cy="3.4" r=".76" fill="#202124"></circle><circle cx=".9" cy="5.9" r=".76" fill="#202124"></circle></svg>
  <span class="t b" style="font-size: 5.6px; color: rgb(32, 33, 36); left: 691.6px; top: 393px; letter-spacing: 0.23px;">Summary of the demographic groups your ads are reaching by age</span>
  <span class="t b" style="font-size: 5.6px; color: rgb(32, 33, 36); left: 691.6px; top: 401px; letter-spacing: 0.272px;">and gender</span>
  <span class="t d" style="font-size: 5.6px; left: 707.6px; top: 422px; letter-spacing: 0.241px;">Gender</span>
  <span class="t b" style="font-size: 5.6px; color: rgb(32, 33, 36); left: 764.5px; top: 422px; letter-spacing: 0.16px;">Gender &amp; Age</span>
  <span class="t d" style="font-size: 5.6px; left: 843px; top: 422px; letter-spacing: 0.259px;">Age</span>
  <div class="a" style="left:750.4px;top:431px;width:65.4px;height:1px;background:#76a6f6"></div>
  <svg style="left:720px;top:438px" width="130" height="34" viewBox="720 438 130 34"><rect x="721.1" y="438.6" width=".55" height="32" fill="#80868b"></rect><rect x="722.5" y="439" width="19.9" height="19.7" fill="#d2e3fc"></rect><rect x="722.5" y="459.8" width="19.9" height="12" fill="#eef3fe"></rect><rect x="743.4" y="439" width="19.9" height="19.7" fill="#4285f4"></rect><rect x="743.4" y="459.8" width="19.9" height="12" fill="#9ebdf8"></rect><rect x="764.3" y="439" width="19.9" height="19.7" fill="#4285f4"></rect><rect x="764.3" y="459.8" width="19.9" height="12" fill="#8fb3f6"></rect><rect x="785.2" y="439" width="19.9" height="19.7" fill="#94b8f7"></rect><rect x="785.2" y="459.8" width="19.9" height="12" fill="#b4cdf9"></rect><rect x="806.1" y="439" width="19.9" height="19.7" fill="#b7cffa"></rect><rect x="806.1" y="459.8" width="19.9" height="12" fill="#c8dafb"></rect><rect x="827.0" y="439" width="19.9" height="19.7" fill="#d2e3fc"></rect><rect x="827.0" y="459.8" width="19.9" height="12" fill="#e4edfd"></rect></svg>
  <span class="t d" style="font-size: 4.8px; left: 706px; top: 452px; letter-spacing: 0.17px;">Male</span>
  <span class="t d" style="font-size: 4.8px; left: 701.2px; top: 467px; letter-spacing: -0.036px;">Female</span>

 </div>
</div>

<svg style="left:-8px;top:466px" width="1040" height="10" viewBox="0 0 1040 10" preserveAspectRatio="none"><rect x="0" y=".45" width="1040" height="9.6" fill="#cbc8c2"></rect></svg>
</div>
</div>


</body></html>
